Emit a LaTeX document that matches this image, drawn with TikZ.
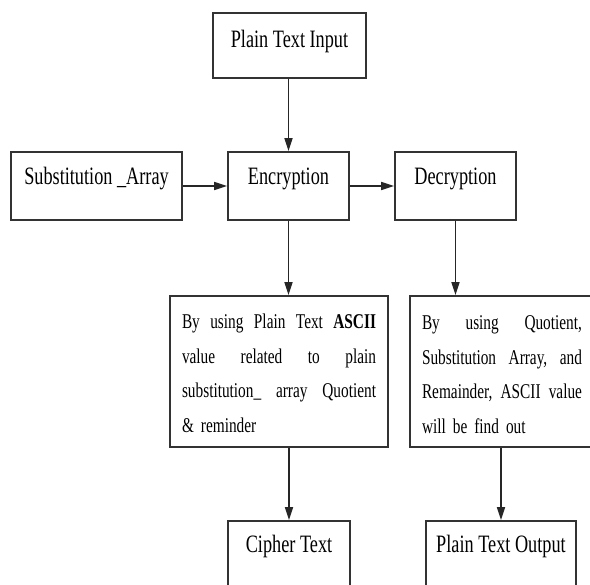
\documentclass[tikz,border=0pt]{standalone}
\usepackage{fontspec}
\setmainfont{Liberation Serif}[FakeStretch=0.73]
\usetikzlibrary{arrows.meta}
\begin{document}
\begin{tikzpicture}[x=1pt,y=-1pt,
  box/.style={draw=black!80, line width=1.7pt, rectangle, inner sep=0pt, anchor=base,
    font=\fontsize{25}{30}\selectfont},
  textbox/.style={draw=black!80, line width=1.7pt, rectangle, inner xsep=12pt, inner ysep=0pt,
    anchor=base, align=left, font=\fontsize{21}{34.5}\selectfont},
  arr/.style={draw=black!85, line width=1.6pt, -{Triangle[length=13pt,width=8pt]}}
]
\useasboundingbox (0,0) rectangle (590,585);
\clip (0,0) rectangle (590,585);
\fill[white] (0,0) rectangle (590,585);

\node[box, minimum width=153pt, text height=35pt, text depth=30pt] (pti) at (289.5,48) {Plain Text Input};
\node[box, minimum width=171pt, text height=33pt, text depth=35pt] (sub) at (96.5,185) {Substitution \_Array};
\node[box, minimum width=121pt, text height=33pt, text depth=35pt] (enc) at (288.5,185) {Encryption};
\node[box, minimum width=121pt, text height=33pt, text depth=35pt] (dec) at (455.5,185) {Decryption};

\node[textbox, text width=194pt, text height=33pt, text depth=118pt] (lbox) at (279,329) {%
\makebox[194pt][s]{By\hfill using\hfill Plain\hfill Text\hfill \textbf{ASCII}}\\
\makebox[194pt][s]{value\hfill related\hfill to\hfill plain}\\
\makebox[194pt][s]{substitution\_\hfill array\hfill Quotient}\\
\& reminder};

\node[textbox, text width=160pt, text height=34pt, text depth=117pt] (rbox) at (502,330) {%
\makebox[160pt][s]{By\hfill using\hfill Quotient,}\\
\makebox[160pt][s]{Substitution\hfill Array,\hfill and}\\
\makebox[160pt][s]{Remainder,\hfill ASCII\hfill value}\\
will be find out};

\node[box, minimum width=122pt, text height=32pt, text depth=50pt] (ct) at (289,553) {Cipher Text};
\node[box, minimum width=150pt, text height=32pt, text depth=50pt] (pto) at (501,553) {Plain Text Output};

\draw[arr] (enc.north |- pti.south) -- (enc.north);
\draw[arr] (sub.east) -- (enc.west);
\draw[arr] (enc.east) -- (dec.west);
\draw[arr] (enc.south) -- (enc.south |- lbox.north);
\draw[arr] (dec.south) -- (dec.south |- rbox.north);
\draw[arr] (ct.north |- lbox.south) -- (ct.north);
\draw[arr] (pto.north |- rbox.south) -- (pto.north);
\end{tikzpicture}
\end{document}
